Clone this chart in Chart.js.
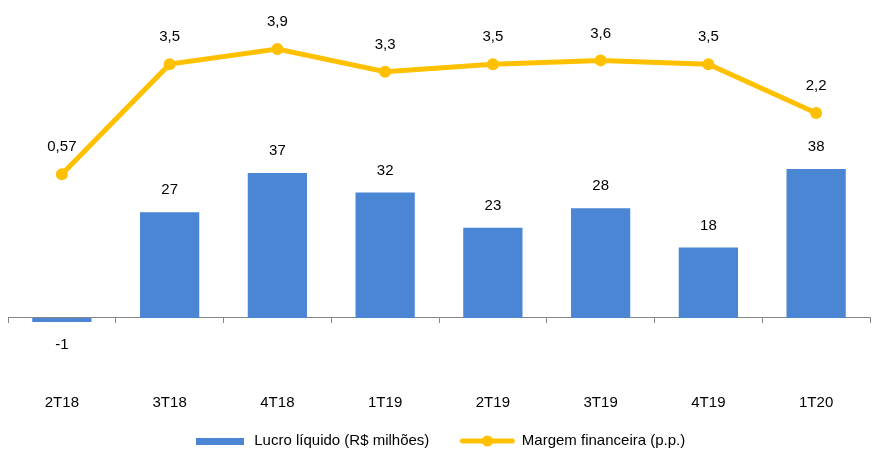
<!DOCTYPE html>
<html>
<head>
<meta charset="utf-8">
<script src="https://cdn.jsdelivr.net/npm/chart.js@4.4.0/dist/chart.umd.min.js"></script>
<style>
  body { margin: 0; background: #fff; }
  #wrap { width: 872px; height: 450px; }
</style>
</head>
<body>
<div id="wrap"><canvas id="lucroChart"></canvas></div>
<script>
// Lucro líquido x Margem financeira
const quarters = ["2T18", "3T18", "4T18", "1T19", "2T19", "3T19", "4T19", "1T20"];
const lucroLiquido = [-1, 27, 37, 32, 23, 28, 18, 38];           // R$ milhões
const margemFinanceira = [0.57, 3.5, 3.9, 3.3, 3.5, 3.6, 3.5, 2.2]; // p.p.

const BLUE = '#4A86D4';
const GOLD = '#FFC000';
const AXIS = '#868686';
const FONT = '"Liberation Sans", Arial, sans-serif';

// little pictures for the legend
function swatch(w, h, draw) {
    const c = document.createElement('canvas');
    c.width = w;
    c.height = h;
    draw(c.getContext('2d'));
    return c;
}
const barSwatch = swatch(48, 7, g => {
    g.fillStyle = BLUE;
    g.fillRect(0, 0, 48, 7);
});
const lineSwatch = swatch(56, 12, g => {
    g.strokeStyle = GOLD;
    g.lineWidth = 5;
    g.lineCap = 'round';
    g.beginPath();
    g.moveTo(3, 6);
    g.lineTo(53, 6);
    g.stroke();
    g.fillStyle = GOLD;
    g.beginPath();
    g.arc(28, 6, 5.5, 0, Math.PI * 2);
    g.fill();
});
const swatches = [barSwatch, lineSwatch];

// values above bars / points
const valueLabels = {
    id: 'valueLabels',
    afterDatasetsDraw(chart) {
        const ctx = chart.ctx;
        ctx.save();
        ctx.font = '15px ' + FONT;
        ctx.fillStyle = '#000';
        ctx.textAlign = 'center';
        ctx.textBaseline = 'middle';
        chart.data.datasets.forEach((ds, i) => {
            chart.getDatasetMeta(i).data.forEach((el, j) => {
                const v = ds.data[j];
                let y;
                if (ds.type === 'line') y = el.y - 27;
                else y = v < 0 ? el.y + 23 : el.y - 22;
                ctx.fillText(String(v).replace('.', ','), el.x, y);
            });
        });
        ctx.restore();
    }
};

new Chart(document.getElementById('lucroChart').getContext('2d'), {
    type: 'bar',
    data: {
        labels: quarters,
        datasets: [
            {
                type: 'bar',
                label: 'Lucro líquido (R$ milhões)',
                data: lucroLiquido,
                backgroundColor: BLUE,
                yAxisID: 'y',
                barPercentage: 0.55,
                categoryPercentage: 1,
                order: 1
            },
            {
                type: 'line',
                label: 'Margem financeira (p.p.)',
                data: margemFinanceira,
                borderColor: GOLD,
                backgroundColor: GOLD,
                borderWidth: 5,
                pointRadius: 6,
                pointBorderWidth: 0,
                pointBackgroundColor: GOLD,
                tension: 0,
                yAxisID: 'y2',
                order: 0
            }
        ]
    },
    options: {
        responsive: true,
        maintainAspectRatio: false,
        animation: false,
        layout: {
            autoPadding: false,
            padding: { left: 8, right: 2, top: 10, bottom: -8.5 }
        },
        scales: {
            x: {
                position: { y: 0 },
                offset: true,
                grid: {
                    drawOnChartArea: false,
                    offset: true,
                    tickLength: 5,
                    color: AXIS
                },
                border: { color: AXIS, width: 1 },
                ticks: {
                    padding: 71,
                    color: '#000',
                    font: { family: FONT, size: 15 }
                },
                // the big label padding should not squeeze the plot sideways
                afterFit(scale) {
                    scale.paddingLeft = 0;
                    scale.paddingRight = 0;
                }
            },
            y: {
                display: false,
                min: -21.56,
                max: 78.57
            },
            y2: {
                display: false,
                min: -5.5,
                max: 4.94
            }
        },
        plugins: {
            legend: {
                position: 'bottom',
                labels: {
                    usePointStyle: true,
                    pointStyleWidth: 54,
                    padding: 31,
                    color: '#000',
                    font: { family: FONT, size: 15 },
                    sort: (a, b) => a.datasetIndex - b.datasetIndex,
                    generateLabels(chart) {
                        const items = Chart.defaults.plugins.legend.labels.generateLabels(chart);
                        items.forEach(it => { it.pointStyle = swatches[it.datasetIndex]; });
                        return items;
                    }
                }
            },
            tooltip: { enabled: false }
        }
    },
    plugins: [valueLabels]
});
</script>
</body>
</html>
